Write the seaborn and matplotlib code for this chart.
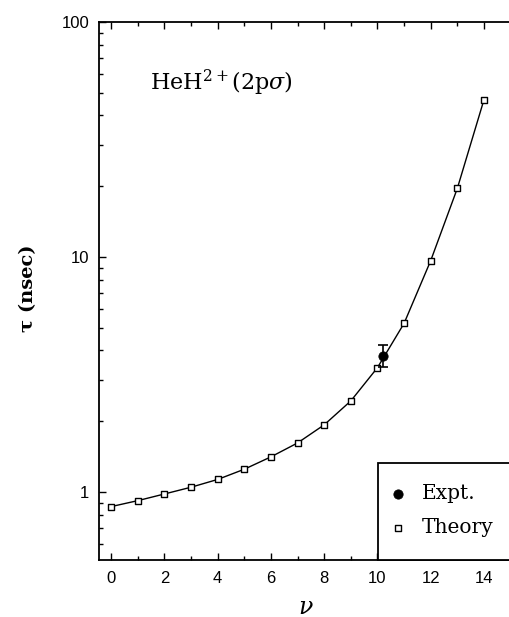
import matplotlib
matplotlib.use("Agg")
import matplotlib.pyplot as plt
from matplotlib.patches import Rectangle
from matplotlib.ticker import FixedLocator, NullFormatter
import seaborn as sns
import pandas as pd

# Vibrational levels and calculated lifetimes (nsec)
levels = [0, 1, 2, 3, 4, 5, 6, 7, 8, 9, 10, 11, 12, 13, 14]
lifetimes = [0.866, 0.918, 0.980, 1.047, 1.13, 1.249, 1.41, 1.616,
             1.93, 2.44, 3.38, 5.22, 9.65, 19.6, 46.7]

# Measured lifetime with its uncertainty
expt_level = [10.2]
expt_lifetime = [3.8]
expt_err = [0.4]

x_ticks = [0, 2, 4, 6, 8, 10, 12, 14]
y_ticks = [1, 10, 100]
y_ticklabels = ["1", "10", "100"]

sns.set_style("ticks")
plt.rcParams["font.family"] = ["Liberation Sans", "DejaVu Sans"]
plt.rcParams["mathtext.fontset"] = "dejavuserif"
plt.rcParams["text.color"] = "black"
plt.rcParams["axes.labelcolor"] = "black"

fig = plt.figure(figsize=(5.10, 6.17), dpi=100)
ax = fig.add_axes([99 / 510, 1 - 560 / 617, (513 - 99) / 510, (560 - 22) / 617])

theory = pd.DataFrame({"v": levels, "tau": lifetimes})
expt = pd.DataFrame({"v": expt_level, "tau": expt_lifetime})

sns.lineplot(data=theory, x="v", y="tau", ax=ax, color="black", lw=1.0,
             zorder=2, legend=False)
sns.scatterplot(data=theory, x="v", y="tau", ax=ax, marker="s", s=20,
                facecolor="white", edgecolor="black", linewidth=1.0,
                zorder=3, label="Theory")
ax.errorbar(expt_level, expt_lifetime, yerr=expt_err, fmt="none",
            ecolor="black", elinewidth=1.2, capsize=3.5, capthick=1.2, zorder=4)
sns.scatterplot(data=expt, x="v", y="tau", ax=ax, marker="o", s=45,
                color="black", edgecolor="black", zorder=5, label="Expt.")

ax.set_yscale("log")
ax.set_xlim(-0.46, 15.09)
ax.set_ylim(0.513, 100)

ax.xaxis.set_major_locator(FixedLocator(x_ticks))
ax.xaxis.set_minor_locator(FixedLocator([1, 3, 5, 7, 9, 11, 13]))
ax.set_xticklabels([str(t) for t in x_ticks])
ax.yaxis.set_major_locator(FixedLocator(y_ticks))
ax.set_yticklabels(y_ticklabels)
ax.yaxis.set_minor_formatter(NullFormatter())

ax.tick_params(axis="both", which="both", direction="in", top=True,
               right=False, width=1.0, labelsize=12, colors="black",
               labelcolor="black")
ax.tick_params(axis="both", which="major", length=5)
ax.tick_params(axis="both", which="minor", length=3)
ax.tick_params(axis="x", which="major", pad=8)
ax.tick_params(axis="y", which="major", pad=7)
ax.spines["right"].set_visible(False)
for side in ["left", "bottom", "top"]:
    ax.spines[side].set_linewidth(1.3)
    ax.spines[side].set_color("black")

ax.set_xlabel(r"$\nu$", fontsize=17, labelpad=8, color="black")
ax.set_ylabel("τ (nsec)", fontsize=14, fontweight="bold",
              family=["DejaVu Serif"], color="black")
ax.yaxis.set_label_coords(-0.15, 0.505)

ax.text(0.123, 0.8736, r"HeH$^{2+}$(2p$\sigma$)", transform=ax.transAxes,
        fontsize=16, family=["DejaVu Serif"], va="baseline", ha="left",
        color="black")

# Legend box anchored to the lower right corner of the axes
x0 = (377.7 - 99) / (513 - 99)
h = (560 - 463.3) / (560 - 22)
ax.add_patch(Rectangle((x0, 0), 1 - x0, h, transform=ax.transAxes,
                       facecolor="white", edgecolor="black", lw=1.3,
                       zorder=6, clip_on=False))
handles, labels = ax.get_legend_handles_labels()
order = [labels.index("Expt."), labels.index("Theory")]
leg = ax.legend([handles[i] for i in order], [labels[i] for i in order],
                loc="upper left", bbox_to_anchor=(x0, 0.156),
                borderaxespad=0, borderpad=0.4, frameon=False,
                handlelength=1.2, handletextpad=0.6, labelspacing=0.76,
                prop={"family": "DejaVu Serif", "size": 14.5})
for t in leg.get_texts():
    t.set_color("black")
leg.set_zorder(7)

fig.savefig("out.png", dpi=100)
